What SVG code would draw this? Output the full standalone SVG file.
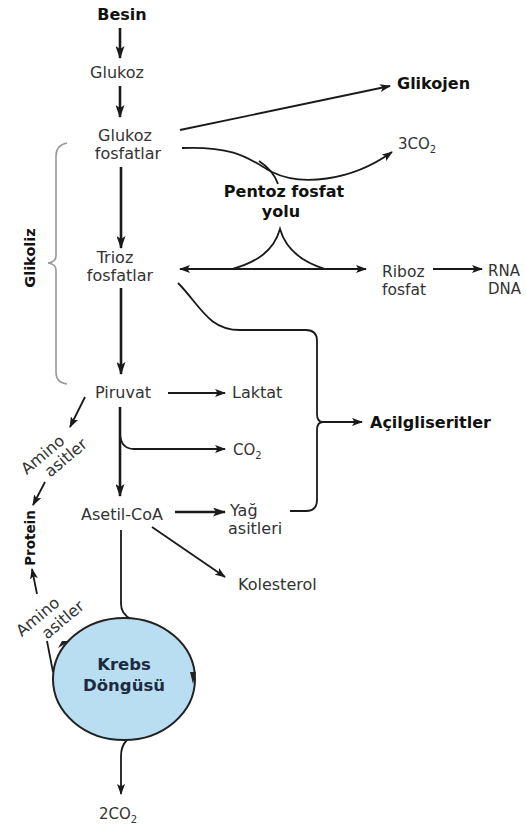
<svg xmlns="http://www.w3.org/2000/svg" width="526" height="827" viewBox="0 0 526 827">
<style>
text{font-family:"DejaVu Sans","Liberation Sans",sans-serif;fill:#333;font-size:16px}
.b{font-weight:bold;fill:#111;font-size:16px}
.m{text-anchor:middle}
.s{font-size:15px}
.r{font-size:15.5px}
.sub{font-size:10px}
.thick{stroke:#1a1a1a;stroke-width:2.6;fill:none}
.thin{stroke:#1a1a1a;stroke-width:1.8;fill:none}
.gray{stroke:#999;stroke-width:1.6;fill:none}
</style>
<defs>
<marker id="ah" markerUnits="userSpaceOnUse" markerWidth="13" markerHeight="9" refX="12" refY="4.5" orient="auto">
<path d="M0,0 L13,4.5 L0,9 L3,4.5 z" fill="#1a1a1a"/>
</marker>
<marker id="as" markerUnits="userSpaceOnUse" markerWidth="11" markerHeight="8" refX="10" refY="4" orient="auto-start-reverse">
<path d="M0,0 L11,4 L0,8 L2.5,4 z" fill="#1a1a1a"/>
</marker>
</defs>
<rect width="526" height="827" fill="#fff"/>

<g id="connectors">
<line class="thick" x1="120" y1="28" x2="120" y2="58" marker-end="url(#ah)"/>
<line class="thick" x1="120" y1="86" x2="120" y2="117" marker-end="url(#ah)"/>
<line class="thick" x1="121" y1="167" x2="121" y2="248" marker-end="url(#ah)"/>
<line class="thick" x1="121" y1="288" x2="121" y2="374" marker-end="url(#ah)"/>
<line class="thick" x1="120" y1="407" x2="120" y2="496" marker-end="url(#ah)"/>
<path class="thin" d="M120,434 Q121,449 134,449 L225,449" marker-end="url(#as)"/>
<line class="thin" x1="168" y1="393" x2="225" y2="393" marker-end="url(#as)"/>
<line class="thick" x1="175" y1="512" x2="225" y2="512" marker-end="url(#ah)"/>
<line class="thin" x1="152" y1="527" x2="225" y2="577" marker-end="url(#as)"/>
<path class="thin" d="M121,530 L121,604 Q121,614 131,619"/>
<path class="thin" d="M127,740 Q121,746 121,756 L121,794" marker-end="url(#as)"/>
<line class="thin" x1="180" y1="130" x2="390" y2="86" marker-end="url(#as)"/>
<path class="thin" d="M182,148 C238,146 250,160 272,172 C300,186 350,182 392,152" marker-end="url(#as)"/>
<path class="thin" d="M259,161 Q273,170 278,184"/>
<line class="thin" x1="180" y1="269" x2="366" y2="269" marker-start="url(#as)" marker-end="url(#as)"/>
<path class="thin" d="M232,269 C258,262 274,250 280,229 C286,250 302,262 325,269"/>
<line class="thin" x1="433" y1="269" x2="482" y2="269" marker-end="url(#as)"/>
<path class="thin" d="M178,283 C200,305 208,330 240,330 L306,330 Q317,330 317,341 L317,414 Q317,422 323,422 Q317,422 317,430 L317,500 Q317,511 306,511 L290,511"/>
<line class="thin" x1="323" y1="422" x2="362" y2="422" marker-end="url(#as)"/>
<path class="gray" d="M67,143 Q56,145 56,156 L56,256 Q56,262 48,263 Q56,264 56,270 L56,372 Q56,383 67,384"/>
<line class="thin" x1="85" y1="397" x2="70" y2="427" marker-end="url(#as)"/>
<line class="thin" x1="45" y1="482" x2="33" y2="505" marker-end="url(#as)"/>
<line class="thin" x1="37" y1="594" x2="32" y2="569" marker-end="url(#as)"/>
<line class="thin" x1="53" y1="672" x2="47" y2="641"/>
</g>

<g id="n-besin"><text class="b m" x="122" y="20">Besin</text></g>
<g id="n-glukoz"><text class="m" x="117" y="78">Glukoz</text></g>
<g id="n-glukozfosfat"><text class="m" x="125" y="141">Glukoz</text><text class="m" x="128" y="159">fosfatlar</text></g>
<g id="n-glikojen"><text class="b" x="397" y="89">Glikojen</text></g>
<g id="n-3co2"><text class="s" x="398" y="149">3CO<tspan class="sub" dy="4">2</tspan></text></g>
<g id="n-pentoz"><text class="b m" x="284" y="197">Pentoz fosfat</text><text class="b m" x="281" y="217">yolu</text></g>
<g id="n-trioz"><text class="m" x="115" y="263">Trioz</text><text class="m" x="120" y="281">fosfatlar</text></g>
<g id="n-riboz"><text class="r" x="382" y="277">Riboz</text><text class="r" x="382" y="295">fosfat</text></g>
<g id="n-rna"><text class="s" x="488" y="276">RNA</text><text class="s" x="488" y="294">DNA</text></g>
<g id="n-glikoliz"><text class="b m" transform="translate(30,258) rotate(-90)" x="0" y="5" style="font-size:14.5px">Glikoliz</text></g>
<g id="n-piruvat"><text class="m" x="123" y="398">Piruvat</text></g>
<g id="n-laktat"><text x="232" y="398">Laktat</text></g>
<g id="n-co2"><text class="s" x="233" y="455">CO<tspan class="sub" dy="4">2</tspan></text></g>
<g id="n-acil"><text class="b" x="370" y="428">Açilgliseritler</text></g>
<g id="n-asetil"><text class="m" x="122" y="520">Asetil-CoA</text></g>
<g id="n-yag"><text x="230" y="516">Yağ</text><text x="228" y="534">asitleri</text></g>
<g id="n-kolesterol"><text x="238" y="590">Kolesterol</text></g>
<g id="n-amino1"><text class="m" transform="translate(43,455) rotate(-40)" x="0" y="5">Amino</text><text class="m" transform="translate(66,458) rotate(-40)" x="0" y="5">asitler</text></g>
<g id="n-protein"><text class="b m" transform="translate(30,538) rotate(-90)" x="0" y="5" style="font-size:13.5px">Protein</text></g>
<g id="n-amino2"><text class="m" transform="translate(38,617) rotate(-40)" x="0" y="5">Amino</text><text class="m" transform="translate(63,620) rotate(-40)" x="0" y="5">asitler</text></g>
<g id="n-krebs">
<ellipse cx="124" cy="679" rx="71" ry="61" fill="#b9def2" stroke="#222" stroke-width="2"/>
<path d="M190,672 L196,672 L193,684 z" fill="#222"/>
<path d="M58,648 L62,641 L70,641 z" fill="#222"/>
<text class="b m" x="124" y="670" style="fill:#1c2b40;font-size:16.5px">Krebs</text>
<text class="b m" x="124" y="691" style="fill:#1c2b40;font-size:16.5px">Döngüsü</text>
</g>
<g id="n-2co2"><text class="s m" x="118" y="819">2CO<tspan class="sub" dy="4">2</tspan></text></g>
</svg>
